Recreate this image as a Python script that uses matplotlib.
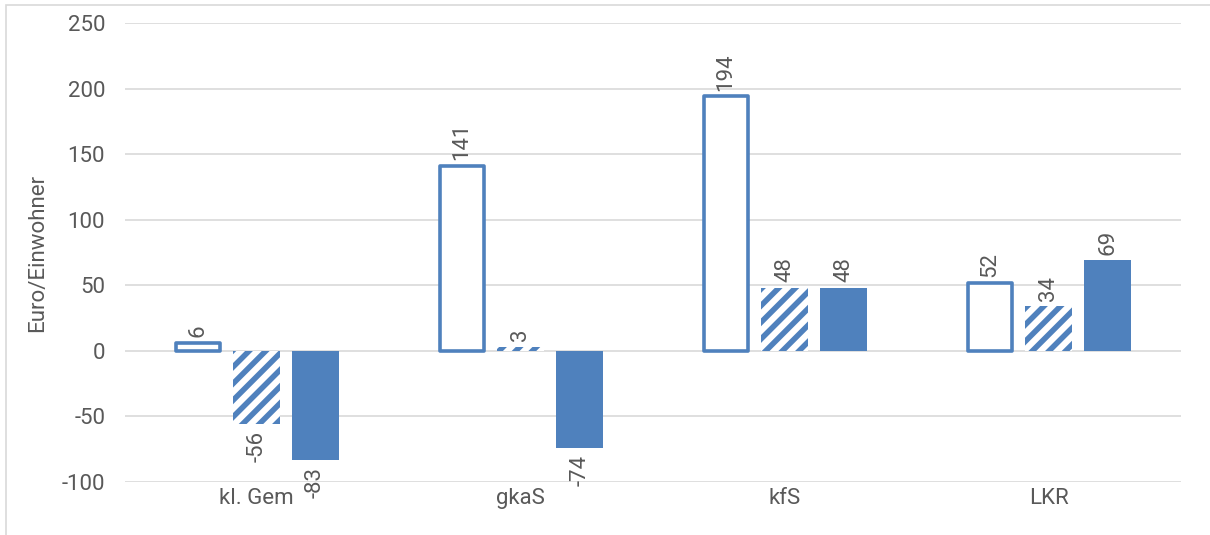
import matplotlib
matplotlib.use('Agg')
from matplotlib import pyplot as plt
from matplotlib.patches import Rectangle
import numpy as np

kategorien = ['kl. Gem', 'gkaS', 'kfS', 'LKR']
werte_rahmen = [6, 141, 194, 52]
werte_schraffiert = [-56, 3, 48, 34]
werte_voll = [-83, -74, 48, 69]

blau = '#4F81BD'
grau = '#595959'

plt.rcParams['font.family'] = ['Roboto', 'DejaVu Sans']
plt.rcParams['axes.unicode_minus'] = False
plt.rcParams['hatch.linewidth'] = 4.0
plt.rcParams['hatch.color'] = blau

fs = 16

fig = plt.figure(figsize=(12.1, 5.35), dpi=100)
ax = fig.add_axes([0.103, 0.099, 0.873, 0.858])

x = np.arange(len(kategorien))
abstand = 0.223
breite = 0.178

# Balken: Rahmen, schraffiert, voll
b1 = ax.bar(x - abstand, werte_rahmen, breite - 0.013, facecolor='white',
            edgecolor=blau, linewidth=2.6, joinstyle='round', zorder=3)
b2 = ax.bar(x, werte_schraffiert, breite, facecolor='white', edgecolor=blau,
            hatch='//', linewidth=0, zorder=3)
b3 = ax.bar(x + abstand, werte_voll, breite, color=blau, linewidth=0, zorder=3)

# Datenbeschriftungen (gedreht)
for bars, werte in [(b1, werte_rahmen), (b2, werte_schraffiert), (b3, werte_voll)]:
    for rect, w in zip(bars, werte):
        xc = rect.get_x() + rect.get_width() / 2
        if w >= 0:
            ax.annotate(str(w), (xc, w), xytext=(0, 4), textcoords='offset points',
                        rotation=90, ha='center', va='bottom', fontsize=fs, color=grau)
        else:
            ax.annotate(str(w), (xc, w), xytext=(0, -5), textcoords='offset points',
                        rotation=90, ha='center', va='top', fontsize=fs, color=grau)

ax.set_xlim(-0.5, len(kategorien) - 0.5)
ax.set_ylim(-100, 250)
ax.set_yticks(np.arange(-100, 251, 50))
ax.set_xticks(x)
ax.set_xticklabels(kategorien)
ax.tick_params(axis='both', length=0, labelsize=fs, labelcolor=grau)
ax.tick_params(axis='y', pad=14)
ax.tick_params(axis='x', pad=4)
ax.grid(axis='y', color='#D9D9D9', linewidth=1.2, zorder=0)
ax.set_axisbelow(True)
for s in ax.spines.values():
    s.set_visible(False)

ax.set_ylabel('Euro/Einwohner', fontsize=fs, color=grau)
ax.yaxis.set_label_coords(-0.072, 0.5)

# Rahmen um das Diagramm
fig.patches.append(Rectangle((6 / 1210, -0.1), 1.2, 1.1 - 5 / 535, transform=fig.transFigure,
                             fill=False, edgecolor='#D9D9D9', linewidth=1.2))

plt.savefig('out.png', dpi=100)
